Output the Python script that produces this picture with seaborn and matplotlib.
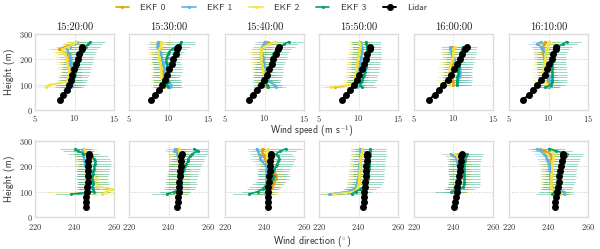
import numpy as np
import pandas as pd
import seaborn as sns
import matplotlib
matplotlib.use("Agg")
import matplotlib.pyplot as plt
from matplotlib.lines import Line2D

nan = np.nan

TIMES = ["15:20:00", "15:30:00", "15:40:00", "15:50:00", "16:00:00", "16:10:00"]
SERIES = ["EKF 0", "EKF 1", "EKF 2", "EKF 3"]
COLORS = ["#E69F00", "#56B4E9", "#F0E442", "#009E73"]

H_EKF = [90, 100, 110, 120, 130, 140, 150, 160, 170, 180, 190, 200, 210, 220, 230, 240, 250, 260, 270]
H_LIDAR = [40, 60, 80, 100, 120, 140, 160, 180, 200, 220, 240, 250]

# ---------------- wind speed (m/s) ----------------
ws_1520_ekf0 = [9.2, 9.3, 9.4, 9.5, 9.5, 9.6, 9.6, 9.5, 9.5, 9.4, 9.3, 9.2, 9.1, 9.0, 8.7, 8.0, 8.8, 9.8, 10.3]
ws_1520_ekf1 = [9.6, 9.7, 9.8, 9.8, 9.8, 9.8, 9.7, 9.7, 9.6, 9.6, 9.5, 9.5, 9.4, 9.4, 9.2, 9.0, 9.4, 9.9, 10.3]
ws_1520_ekf2 = [6.4, 6.8, 9.0, 9.1, 9.2, 9.3, 9.3, 9.2, 9.2, 9.1, 9.0, 9.0, 8.9, 8.8, 8.6, 8.4, 9.2, 9.8, 10.2]
ws_1520_ekf3 = [9.3, 9.5, 9.7, 9.8, 9.9, 10.0, 10.1, 10.2, 10.3, 10.4, 10.5, 10.6, 10.7, 10.8, 10.9, 11.1, 11.4, 11.7, 12.0]
ws_1520_lidar = [8.2, 8.6, 9.0, 9.3, 9.5, 9.7, 9.9, 10.2, 10.4, 10.6, 10.9, 11.0]

ws_1530_ekf0 = [9.4, 9.5, 9.5, 9.4, 9.4, 9.3, 9.3, 9.2, 9.2, 9.1, 9.1, 9.0, 9.0, 8.9, 8.9, 8.8, 8.8, 8.9, 8.8]
ws_1530_ekf1 = [10.2, 10.3, 10.1, 9.9, 9.7, 9.6, 9.5, 9.4, 9.4, 9.3, 9.3, 9.2, 9.1, 9.0, 8.9, 8.8, 8.6, 8.6, 8.7]
ws_1530_ekf2 = [9.0, 9.1, 9.2, 9.2, 9.1, 9.1, 9.0, 9.0, 9.0, 8.9, 8.9, 8.8, 8.8, 8.7, 8.7, 8.8, 9.0, 9.1, 9.0]
ws_1530_ekf3 = [9.9, 9.8, 9.9, 9.8, 9.7, 9.8, 9.9, 9.9, 9.8, 9.8, 9.7, 9.7, 9.8, 9.9, 10.1, 10.4, 10.9, 11.5, 11.6]
ws_1530_lidar = [7.8, 8.3, 8.8, 9.2, 9.5, 9.8, 10.1, 10.4, 10.6, 10.9, 11.1, 11.2]

ws_1540_ekf0 = [10.3, 10.2, 10.1, 10.0, 9.9, 9.9, 9.8, 9.8, 9.7, 9.7, 9.7, 9.6, 9.6, 9.6, 9.5, 9.6, 9.8, 10.2, 10.4]
ws_1540_ekf1 = [11.5, 11.2, 10.8, 10.5, 10.3, 10.2, 10.1, 10.0, 10.0, 9.9, 9.9, 9.8, 9.8, 9.7, 9.6, 9.6, 9.7, 9.9, 10.0]
ws_1540_ekf2 = [10.4, 10.3, 10.2, 10.1, 10.0, 9.9, 9.8, 9.8, 9.7, 9.7, 9.6, 9.6, 9.5, 9.5, 9.5, 9.6, 9.9, 10.6, 11.4]
ws_1540_ekf3 = [10.4, 10.3, 10.2, 10.3, 10.4, 10.4, 10.5, 10.5, 10.6, 10.7, 10.8, 10.9, 11.0, 11.1, 11.3, 11.6, 12.0, 12.5, 13.1]
ws_1540_lidar = [8.0, 8.5, 9.0, 9.5, 9.9, 10.3, 10.6, 10.9, 11.1, 11.4, 11.7, 11.8]

ws_1550_ekf0 = [7.0, 9.2, 9.5, 9.6, 9.6, 9.7, 9.7, 9.8, 9.8, 9.8, 9.9, 9.9, 10.0, 10.0, 10.1, 10.1, 10.2, 10.2, 10.2]
ws_1550_ekf1 = [9.8, 9.8, 9.9, 10.0, 10.0, 10.1, 10.1, 10.1, 10.2, 10.2, 10.2, 10.3, 10.3, 10.3, 10.4, 10.4, 10.4, 10.3, 10.2]
ws_1550_ekf2 = [6.5, 9.0, 9.4, 9.5, 9.6, 9.6, 9.7, 9.7, 9.7, 9.8, 9.8, 9.9, 9.9, 10.0, 10.0, 10.1, 10.2, 10.2, 10.1]
ws_1550_ekf3 = [10.4, 10.2, 10.3, 10.5, 10.6, 10.7, 10.8, 10.8, 10.9, 10.9, 10.9, 11.0, 11.0, 11.0, 11.1, 11.1, 11.1, 11.0, 11.0]
ws_1550_lidar = [7.9, 8.4, 8.9, 9.4, 9.8, 10.1, 10.4, 10.7, 10.9, 11.1, 11.4, 11.5]

ws_1600_ekf0 = [nan, 10.0, 9.9, 9.8, 9.8, 9.8, 9.8, 9.8, 9.8, 9.8, 9.8, 9.8, 9.8, 9.8, 9.8, 9.8, 9.8, nan, nan]
ws_1600_ekf1 = [nan, 10.4, 10.5, 10.6, 10.7, 10.8, 10.8, 10.8, 10.7, 10.5, 10.3, 10.1, 9.9, 9.8, 9.7, 9.6, 9.6, nan, nan]
ws_1600_ekf2 = [nan, 9.6, 9.3, 9.2, 9.3, 9.4, 9.5, 9.5, 9.5, 9.6, 9.7, 9.8, 9.9, 10.0, 10.0, 10.0, 10.2, nan, nan]
ws_1600_ekf3 = [nan, 10.4, 10.5, 10.5, 10.5, 10.6, 10.6, 10.6, 10.7, 10.7, 10.8, 10.8, 10.9, 11.0, 11.0, 11.1, 11.2, nan, nan]
ws_1600_lidar = [6.9, 7.6, 8.2, 8.7, 9.3, 9.7, 10.1, 10.5, 10.8, 11.1, 11.5, 11.7]

ws_1610_ekf0 = [9.9, 10.1, 10.0, 9.9, 9.8, 9.7, 9.7, 9.6, 9.6, 9.5, 9.5, 9.4, 9.4, 9.3, 9.3, 9.2, 9.3, 9.4, 9.6]
ws_1610_ekf1 = [10.1, 10.3, 10.2, 10.1, 10.0, 9.9, 9.8, 9.8, 9.7, 9.7, 9.6, 9.6, 9.5, 9.5, 9.4, 9.3, 9.0, 8.6, 9.1]
ws_1610_ekf2 = [9.6, 9.8, 9.6, 9.4, 9.3, 9.3, 9.3, 9.3, 9.4, 9.4, 9.5, 9.5, 9.6, 9.6, 9.7, 9.8, 9.9, 10.0, 10.0]
ws_1610_ekf3 = [9.6, 10.3, 10.5, 10.5, 10.5, 10.5, 10.5, 10.4, 10.4, 10.4, 10.4, 10.4, 10.4, 10.4, 10.6, 10.8, 11.2, 11.8, 12.3]
ws_1610_lidar = [6.8, 7.5, 8.1, 8.6, 9.1, 9.5, 9.8, 10.1, 10.4, 10.6, 10.9, 11.0]

# ---------------- wind direction (deg) ----------------
wd_1520_ekf0 = [246, 246.5, 247, 247, 247, 247, 247, 247, 246.5, 246.5, 246.5, 246, 246, 246, 245.5, 245, 244.5, 244.5, 244.7]
wd_1520_ekf1 = [246.5, 247, 247.5, 247.5, 247.5, 247, 247, 246.5, 246.5, 246, 246, 245.5, 245.5, 245, 245, 244.5, 244.5, 244, 244.5]
wd_1520_ekf2 = [254.0, 256.0, 259.0, 252.0, 251.0, 250.0, 251.5, 250.0, 248.5, 248.0, 247.5, 247.0, 246.5, 246.5, 246.0, 246.0, 246.0, 245.5, 245.0]
wd_1520_ekf3 = [238.0, 250.0, 249.5, 249.0, 249.5, 249.5, 249.0, 249.0, 249.5, 249.5, 250.0, 250.0, 250.5, 250.5, 250.0, 249.0, 244.5, 242.0, 240.5]
wd_1520_lidar = [245.6, 245.8, 246.0, 246.3, 246.5, 246.6, 246.7, 246.8, 246.9, 247.0, 247.2, 247.4]

wd_1530_ekf0 = [245, 245.5, 245.5, 245.5, 245.5, 245.5, 245.5, 245.5, 245.5, 245.5, 245.5, 245.5, 245.5, 245.5, 245, 245, 245, 244.5, 244.5]
wd_1530_ekf1 = [245, 245.5, 246, 246, 246, 246, 246, 246, 246, 246, 246, 245.5, 245.5, 245.5, 245, 245, 244.5, 243, 243.5]
wd_1530_ekf2 = [243.3, 244.5, 245, 245, 245, 245, 245, 245, 245.5, 245.5, 245.5, 245.5, 245.5, 245.5, 245.5, 245.5, 245.5, 245.5, 245.5]
wd_1530_ekf3 = [239, 243, 245.5, 246, 246.5, 246, 246.5, 247, 247, 247.5, 248, 248.5, 249, 250, 250, 251, 252, 255, 253]
wd_1530_lidar = [244.5, 244.7, 244.9, 245.1, 245.3, 245.5, 245.7, 245.9, 246.1, 246.3, 246.5, 246.7]

wd_1540_ekf0 = [241, 242, 243, 244, 244.5, 245, 246, 246, 245.5, 245, 244, 243, 242, 241, 240, 239.5, 239, 238.5, 239]
wd_1540_ekf1 = [240.5, 241, 241, 241, 241, 241, 241, 241, 241, 241, 241, 241, 240, 238.5, 237.5, 238, 237, 236.5, 236]
wd_1540_ekf2 = [241, 241.5, 242, 242, 242.5, 242.5, 243, 243, 243, 243, 242.5, 242.5, 242, 242, 241.5, 241.5, 241.5, 241.5, 241.7]
wd_1540_ekf3 = [232, 236.5, 239, 240, 241.5, 243, 244.5, 245, 244, 244.5, 245, 246, 246.5, 247, 247.5, 247, 246, 248, 251]
wd_1540_lidar = [241.6, 241.7, 241.8, 241.9, 242.0, 242.2, 242.4, 242.6, 242.8, 243.0, 243.1, 243.2]

wd_1550_ekf0 = [225.5, 234.5, 237.5, 239, 239.5, 240, 240, 240.5, 240.5, 240.5, 241, 241, 241, 241, 241, 241.5, 241.5, 241.5, 242]
wd_1550_ekf1 = [225, 235, 237.5, 238.5, 239, 239.3, 239.5, 240, 240, 240, 240.5, 240.5, 240.5, 241, 241, 241, 241, 241, 241]
wd_1550_ekf2 = [227, 237.6, 239, 239.5, 240, 240, 240.2, 240.5, 240.5, 240.5, 241, 241, 241, 241, 241, 241.5, 241.5, 241.8, 241.9]
wd_1550_ekf3 = [236.5, 238.5, 241, 243, 244, 244.5, 245, 245, 245, 245, 245.5, 245.5, 245.5, 245.5, 245.5, 246, 246, 246, 246]
wd_1550_lidar = [242.4, 242.6, 242.8, 243.0, 243.2, 243.4, 243.6, 243.8, 244.0, 244.1, 244.3, 244.4]

wd_1600_ekf0 = [nan, 241, 242, 242.5, 243, 243, 243, 243, 243.5, 243.5, 243.5, 243.5, 243.5, 243.5, 243.5, 243, 242.5, nan, nan]
wd_1600_ekf1 = [nan, 240, 241, 241.5, 242, 242, 242, 242.5, 242.5, 242.5, 242.5, 242.5, 242, 242, 241.5, 240.5, 238.5, nan, nan]
wd_1600_ekf2 = [nan, 241.5, 242, 242.5, 243, 243, 243.5, 243.5, 243.5, 243.5, 243.5, 243.5, 243.5, 243, 242.5, 242, 241, nan, nan]
wd_1600_ekf3 = [nan, 238.8, 243, 245, 245.3, 245.5, 245.5, 245.5, 245.3, 245.3, 245.3, 245.5, 245.5, 245.8, 246, 246.3, 246.7, nan, nan]
wd_1600_lidar = [240.5, 240.8, 241.2, 241.6, 242.0, 242.4, 242.8, 243.1, 243.4, 243.7, 244.0, 244.1]

wd_1610_ekf0 = [246, 245, 243, 242, 241.5, 241.5, 241.5, 241.5, 241.5, 241.5, 241.5, 241.5, 241.5, 241.5, 241.5, 241.5, 241, 238, 235.9]
wd_1610_ekf1 = [248, 247.9, 242, 241.9, 241.5, 241.2, 241, 241, 241, 241, 240.5, 240.5, 240, 239.5, 239, 238.5, 237.6, 236, 234.2]
wd_1610_ekf2 = [246, 245, 242, 241.5, 241.5, 241.5, 241.5, 241.5, 241.5, 242, 242, 242, 242, 242, 242.5, 242.5, 242.7, 242, 241.5]
wd_1610_ekf3 = [241.9, 243, 244, 244.5, 245, 245.5, 245.5, 246, 246, 246, 246.5, 246.5, 247, 247.5, 248, 249, 249.6, 244, 240.2]
wd_1610_lidar = [243.1, 243.5, 243.9, 244.3, 244.7, 245.1, 245.5, 245.9, 246.3, 246.7, 247.1, 247.5]

# uncertainties (half-width of horizontal error bars)
ERR_WS_EKF = [1.2, 1.2, 1.4, 1.8]
ERR_WS_LIDAR = 0.4
ERR_WD_EKF = [5.0, 5.0, 6.0, 8.0]
ERR_WD_LIDAR = 1.0
ERR_WD_1520_EKF2 = [6, 30, 6, 6, 6, 6, 6, 6, 6, 6, 6, 6, 6, 6, 6, 6, 6, 6, 6]

WS = [
    [ws_1520_ekf0, ws_1520_ekf1, ws_1520_ekf2, ws_1520_ekf3, ws_1520_lidar],
    [ws_1530_ekf0, ws_1530_ekf1, ws_1530_ekf2, ws_1530_ekf3, ws_1530_lidar],
    [ws_1540_ekf0, ws_1540_ekf1, ws_1540_ekf2, ws_1540_ekf3, ws_1540_lidar],
    [ws_1550_ekf0, ws_1550_ekf1, ws_1550_ekf2, ws_1550_ekf3, ws_1550_lidar],
    [ws_1600_ekf0, ws_1600_ekf1, ws_1600_ekf2, ws_1600_ekf3, ws_1600_lidar],
    [ws_1610_ekf0, ws_1610_ekf1, ws_1610_ekf2, ws_1610_ekf3, ws_1610_lidar],
]
WD = [
    [wd_1520_ekf0, wd_1520_ekf1, wd_1520_ekf2, wd_1520_ekf3, wd_1520_lidar],
    [wd_1530_ekf0, wd_1530_ekf1, wd_1530_ekf2, wd_1530_ekf3, wd_1530_lidar],
    [wd_1540_ekf0, wd_1540_ekf1, wd_1540_ekf2, wd_1540_ekf3, wd_1540_lidar],
    [wd_1550_ekf0, wd_1550_ekf1, wd_1550_ekf2, wd_1550_ekf3, wd_1550_lidar],
    [wd_1600_ekf0, wd_1600_ekf1, wd_1600_ekf2, wd_1600_ekf3, wd_1600_lidar],
    [wd_1610_ekf0, wd_1610_ekf1, wd_1610_ekf2, wd_1610_ekf3, wd_1610_lidar],
]

sns.set_theme(style="whitegrid")
plt.rcParams["font.family"] = ["cmr10", "DejaVu Serif"]
plt.rcParams["mathtext.fontset"] = "cm"
plt.rcParams["axes.formatter.use_mathtext"] = True

W_PX, H_PX = 600, 249
fig = plt.figure(figsize=(6.0, 2.49), dpi=100)

LEFTS = [35, 129, 225, 319, 414, 509]
AX_W = 79
ROW_TOPS = [34, 141]
AX_H = 76

SANS = "cmss10"
TICK_FS = 6.0


def make_ax(col, row):
    l = LEFTS[col] / W_PX
    b = 1 - (ROW_TOPS[row] + AX_H) / H_PX
    return fig.add_axes([l, b, AX_W / W_PX, AX_H / H_PX])


def draw_panel(ax, data, ekf_err, lidar_err, err_override=None):
    # error bars first
    for k in range(4):
        err = ekf_err[k]
        if err_override is not None and k == 2:
            err = err_override
        ax.errorbar(data[k], H_EKF, xerr=err, fmt="none", ecolor=COLORS[k],
                    elinewidth=0.75, alpha=0.38, capsize=0, zorder=1)
    ax.errorbar(data[4], H_LIDAR, xerr=lidar_err, fmt="none", ecolor="#555555",
                elinewidth=1.0, alpha=0.7, capsize=0, zorder=2)
    for k in range(4):
        df = pd.DataFrame({"v": data[k], "h": H_EKF})
        sns.lineplot(data=df, x="v", y="h", orient="y", sort=False, estimator=None,
                     color=COLORS[k], marker="o", markersize=2.2, markeredgewidth=0,
                     linewidth=1.2, ax=ax, zorder=3 + k)
    dl = pd.DataFrame({"v": data[4], "h": H_LIDAR})
    sns.lineplot(data=dl, x="v", y="h", orient="y", sort=False, estimator=None,
                 color="black", marker="o", markersize=5.0, markeredgewidth=0,
                 linewidth=1.4, ax=ax, zorder=10)


def style_ax(ax, xlim, xticks, first_col, xpad):
    ax.set_xlim(*xlim)
    ax.set_ylim(0, 300)
    ax.set_xticks(xticks)
    ax.set_yticks([0, 100, 200, 300])
    ax.grid(True, linestyle=":", color="#c8c8c8", linewidth=0.7)
    for s in ax.spines.values():
        s.set_color("#dcdcdc")
        s.set_linewidth(1.0)
    ax.tick_params(axis="both", length=0, labelsize=TICK_FS, labelcolor="#333333")
    ax.tick_params(axis="x", pad=xpad)
    ax.tick_params(axis="y", pad=1.5)
    ax.set_xlabel("")
    if not first_col:
        ax.set_yticklabels([])
        ax.set_ylabel("")
    else:
        ax.set_ylabel("Height (m)", fontsize=7.2, family=SANS, labelpad=3, color="#333333")


for c in range(6):
    ax = make_ax(c, 0)
    draw_panel(ax, WS[c], ERR_WS_EKF, ERR_WS_LIDAR)
    style_ax(ax, (5, 15), [5, 10, 15], c == 0, 2.0)
    ax.set_title(TIMES[c], fontsize=7.6, pad=3, color="#222222")

for c in range(6):
    ax = make_ax(c, 1)
    ovr = ERR_WD_1520_EKF2 if c == 0 else None
    draw_panel(ax, WD[c], ERR_WD_EKF, ERR_WD_LIDAR, err_override=ovr)
    style_ax(ax, (220, 260), [220, 240, 260], c == 0, 3.4)

fig.text(0.52, 1 - 132 / H_PX, r"Wind speed (m s$^{-1}$)", ha="center", va="center",
         fontsize=7.0, family=SANS, color="#333333")
fig.text(0.52, 1 - 241 / H_PX, r"Wind direction ($^{\circ}$)", ha="center", va="center",
         fontsize=7.2, family=SANS, color="#333333")

handles = [Line2D([0], [0], color=COLORS[k], marker="o", markersize=2.2,
                  markeredgewidth=0, linewidth=1.2) for k in range(4)]
handles.append(Line2D([0], [0], color="black", marker="o", markersize=5.0,
                      markeredgewidth=0, linewidth=1.4))
leg = fig.legend(handles, SERIES + ["Lidar"], loc="center", ncol=5,
                 bbox_to_anchor=(0.4525, 1 - 8 / H_PX), frameon=False,
                 prop={"family": SANS, "size": 6.8}, handlelength=1.4,
                 columnspacing=1.8, handletextpad=1.2)
for t in leg.get_texts():
    t.set_color("#333333")

fig.savefig("out.png", dpi=100)
